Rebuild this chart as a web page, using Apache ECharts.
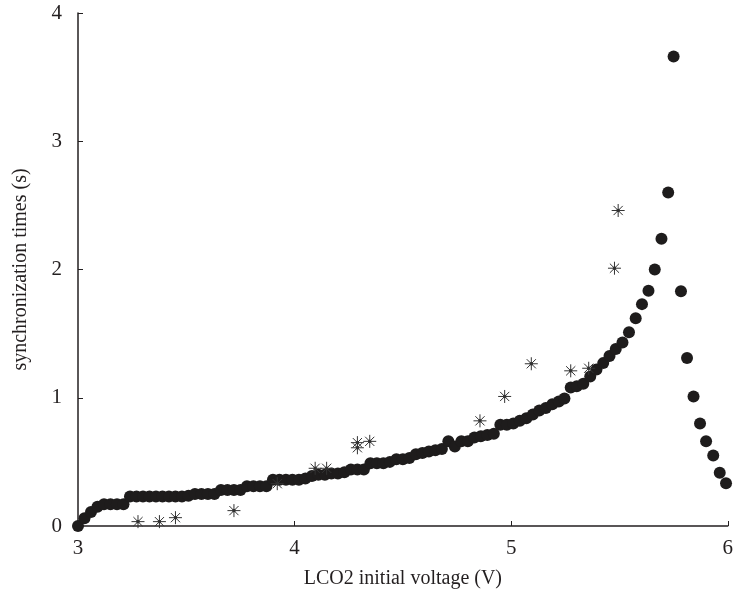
<!DOCTYPE html>
<html>
<head>
<meta charset="utf-8">
<script src="https://cdn.jsdelivr.net/npm/echarts@6/dist/echarts.min.js"></script>
<style>
html, body { margin: 0; padding: 0; background: #fff; }
#chart { width: 736px; height: 602px; }
</style>
</head>
<body>
<div id="chart"></div>
<script>
// measured curve (filled circles)
const circleX = [
  3.00, 3.03, 3.06, 3.09, 3.12, 3.15, 3.18, 3.21, 3.24, 3.27,
  3.30, 3.33, 3.36, 3.39, 3.42, 3.45, 3.48, 3.51, 3.54, 3.57,
  3.60, 3.63, 3.66, 3.69, 3.72, 3.75, 3.78, 3.81, 3.84, 3.87,
  3.90, 3.93, 3.96, 3.99, 4.02, 4.05, 4.08, 4.11, 4.14, 4.17,
  4.20, 4.23, 4.26, 4.29, 4.32, 4.35, 4.38, 4.41, 4.44, 4.47,
  4.50, 4.53, 4.56, 4.59, 4.62, 4.65, 4.68, 4.71, 4.74, 4.77,
  4.80, 4.83, 4.86, 4.89, 4.92, 4.95, 4.98, 5.01, 5.04, 5.07,
  5.10, 5.13, 5.16, 5.19, 5.22, 5.246, 5.275, 5.303, 5.333, 5.365,
  5.394, 5.425, 5.454, 5.483, 5.514, 5.544, 5.575, 5.604, 5.634, 5.663,
  5.694, 5.725, 5.75, 5.784, 5.812, 5.842, 5.872, 5.90, 5.933, 5.963,
  5.992
];
const circleY = [
  0.00, 0.06, 0.11, 0.15, 0.17, 0.17, 0.17, 0.17, 0.23, 0.23,
  0.23, 0.23, 0.23, 0.23, 0.23, 0.23, 0.23, 0.235, 0.25, 0.25,
  0.25, 0.25, 0.28, 0.28, 0.28, 0.28, 0.31, 0.31, 0.31, 0.31,
  0.36, 0.36, 0.36, 0.36, 0.36, 0.37, 0.39, 0.40, 0.40, 0.41,
  0.41, 0.42, 0.44, 0.44, 0.44, 0.49, 0.49, 0.49, 0.50, 0.52,
  0.52, 0.53, 0.56, 0.57, 0.58, 0.59, 0.60, 0.66, 0.62, 0.66,
  0.66, 0.69, 0.70, 0.71, 0.72, 0.79, 0.79, 0.80, 0.82, 0.84,
  0.87, 0.90, 0.92, 0.95, 0.97, 0.995, 1.08, 1.09, 1.11, 1.165,
  1.22, 1.27, 1.325, 1.38, 1.43, 1.51, 1.62, 1.73, 1.835, 2.00,
  2.24, 2.60, 3.66, 1.83, 1.31, 1.01, 0.80, 0.66, 0.55, 0.415,
  0.333
];

// second set (asterisks)
const starX = [3.277, 3.376, 3.45, 3.72, 3.92, 4.095, 4.148, 4.29, 4.29, 4.347,
  4.856, 4.97, 5.093, 5.275, 5.358, 5.477, 5.494];
const starY = [0.034, 0.034, 0.065, 0.12, 0.33, 0.45, 0.45, 0.61, 0.65, 0.66,
  0.82, 1.01, 1.265, 1.21, 1.23, 2.01, 2.46];

const xTicks = [3, 4, 5, 6];
const yTicks = [0, 1, 2, 3, 4];

const circleData = circleX.map((x, i) => [x, circleY[i]]);
const starData = starX.map((x, i) => [x, starY[i]]);

const font = 'Liberation Serif, Times New Roman, serif';
const ink = '#231f20';

let myChart = echarts.init(document.getElementById('chart'));

let option = {
  animation: false,
  grid: { left: 78, right: 4, top: 13, bottom: 76 },
  xAxis: {
    type: 'value',
    min: xTicks[0],
    max: xTicks[xTicks.length - 1],
    interval: 1,
    name: 'LCO2 initial voltage (V)',
    nameLocation: 'middle',
    nameGap: 43,
    nameTextStyle: { fontFamily: font, fontSize: 20, color: ink },
    axisLine: { onZero: false, lineStyle: { color: ink, width: 1.5 } },
    axisTick: { inside: true, length: 5, lineStyle: { color: ink, width: 1 } },
    axisLabel: { fontFamily: font, fontSize: 21, color: ink, margin: 12 },
    splitLine: { show: false }
  },
  yAxis: {
    type: 'value',
    min: yTicks[0],
    max: yTicks[yTicks.length - 1],
    interval: 1,
    name: 'synchronization times (s)',
    nameLocation: 'middle',
    nameGap: 47,
    nameTextStyle: { fontFamily: font, fontSize: 20, color: ink },
    axisLine: { show: true, lineStyle: { color: ink, width: 1.5 } },
    axisTick: { show: true, inside: true, length: 5, lineStyle: { color: ink, width: 1 } },
    axisLabel: { fontFamily: font, fontSize: 21, color: ink, margin: 16 },
    splitLine: { show: false }
  },
  series: [
    {
      name: 'circles',
      type: 'scatter',
      data: circleData,
      symbol: 'circle',
      symbolSize: 12,
      clip: false,
      itemStyle: { color: '#1e1c1c', opacity: 1 }
    },
    {
      name: 'stars',
      type: 'scatter',
      data: starData,
      symbol: 'path://M12 0L12 24M0 12L24 12M3.5 3.5L20.5 20.5M3.5 20.5L20.5 3.5M10 10L14 10L14 14L10 14Z',
      symbolSize: 13,
      clip: false,
      z: 3,
      itemStyle: { color: '#111', borderColor: '#333', borderWidth: 1, opacity: 1 }
    }
  ]
};

myChart.setOption(option);
</script>
</body>
</html>
